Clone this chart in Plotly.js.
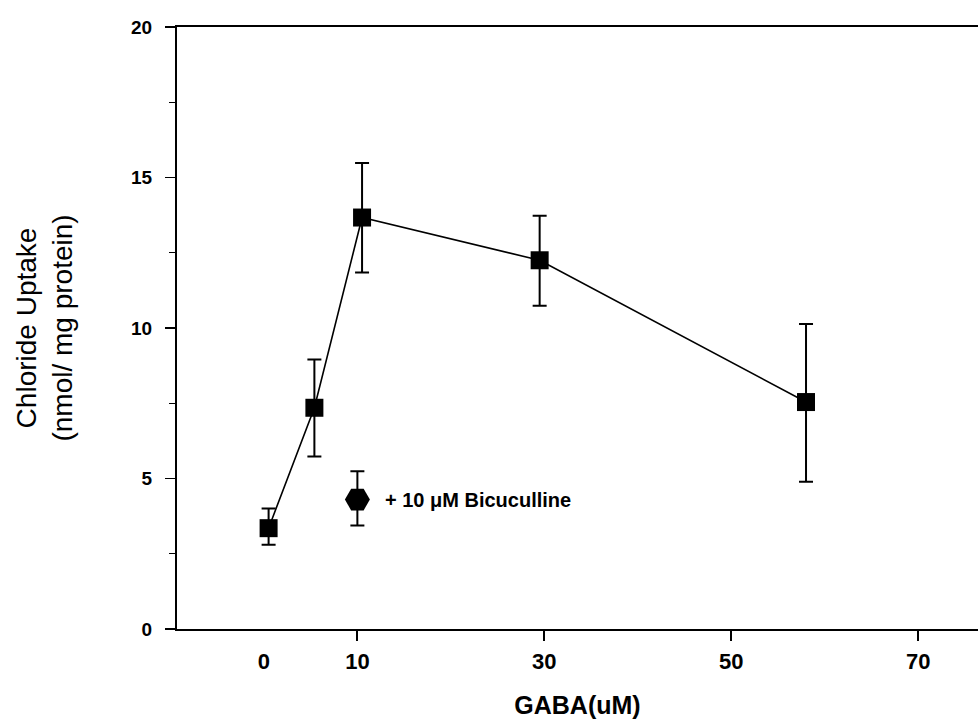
<!DOCTYPE html>
<html>
<head>
<meta charset="utf-8">
<script src="https://cdn.plot.ly/plotly-3.0.1.min.js"></script>
<style>html,body{margin:0;padding:0;background:#fff;}#chart{width:978px;height:719px;}</style>
</head>
<body>
<div id="chart"></div>
<script>
// GABA concentration (uM) and chloride uptake (nmol/mg protein)
var gabaX = [0.5, 5.4, 10.5, 29.5, 58];
var uptakeY = [3.35, 7.35, 13.67, 12.25, 7.54];
var errPlus = [0.65, 1.6, 1.81, 1.48, 2.59];
var errMinus = [0.55, 1.62, 1.83, 1.51, 2.65];

// + 10 uM Bicuculline point
var bicX = [10];
var bicY = [4.3];
var bicErrPlus = [0.94];
var bicErrMinus = [0.86];
var bicLabel = '+ 10 \u03bcM Bicuculline';

var xTickVals = [0, 10, 30, 50, 70];
var xTickText = ['0', '10', '30', '50', '70'];
var xTickMarks = [10, 30, 50, 70];
var yTickVals = [0, 5, 10, 15, 20];

var traces = [
  {
    x: gabaX, y: uptakeY, type: 'scatter', mode: 'lines+markers',
    line: {color: '#000', width: 1.6},
    marker: {symbol: 'square', size: 18, color: '#000'},
    error_y: {type: 'data', symmetric: false, array: errPlus, arrayminus: errMinus,
              color: '#000', thickness: 2, width: 7},
    showlegend: false, hoverinfo: 'none'
  },
  {
    x: bicX, y: bicY, type: 'scatter', mode: 'markers',
    marker: {symbol: 'hexagon2', size: 25, color: '#000'},
    error_y: {type: 'data', symmetric: false, array: bicErrPlus, arrayminus: bicErrMinus,
              color: '#000', thickness: 2, width: 7},
    showlegend: false, hoverinfo: 'none'
  },
  {
    x: xTickMarks, y: xTickMarks.map(function(){return null;}), xaxis: 'x2', type: 'scatter',
    mode: 'markers', showlegend: false, hoverinfo: 'none'
  }
];

var layout = {
  width: 978, height: 719,
  margin: {l: 177, r: 0, t: 27, b: 90},
  paper_bgcolor: '#fff', plot_bgcolor: '#fff',
  showlegend: false,
  xaxis: {
    range: [-9.3, 76.4],
    tickmode: 'array', tickvals: xTickVals, ticktext: xTickText,
    ticks: '', ticklabelstandoff: 12,
    tickfont: {family: '"Liberation Sans", Arial, sans-serif', size: 22, weight: 'bold', color: '#000'},
    showline: true, linecolor: '#000', linewidth: 2, mirror: true,
    showgrid: false, zeroline: false,
    title: {text: 'GABA(uM)', standoff: 32,
            font: {family: '"Liberation Sans", Arial, sans-serif', size: 25, weight: 'bold', color: '#000'}}
  },
  xaxis2: {
    overlaying: 'x', matches: 'x', side: 'bottom',
    tickmode: 'array', tickvals: xTickMarks, showticklabels: false,
    ticks: 'outside', ticklen: 11, tickwidth: 2, tickcolor: '#000',
    showline: false, showgrid: false, zeroline: false
  },
  yaxis: {
    range: [0, 20],
    tickmode: 'array', tickvals: yTickVals,
    ticks: 'outside', ticklen: 10, tickwidth: 1.5, tickcolor: '#000',
    minor: {dtick: 2.5, ticks: 'outside', ticklen: 6, tickwidth: 1.2, tickcolor: '#000'},
    ticklabelstandoff: 9,
    tickfont: {family: '"Liberation Sans", Arial, sans-serif', size: 19, weight: 'bold', color: '#000'},
    showline: true, linecolor: '#000', linewidth: 2,
    showgrid: false, zeroline: false,
    title: {text: 'Chloride Uptake<br>(nmol/ mg protein)', standoff: 50,
            font: {family: '"Liberation Sans", Arial, sans-serif', size: 28, color: '#000'}}
  },
  annotations: [
    {x: bicX[0], y: bicY[0], xref: 'x', yref: 'y', text: bicLabel, showarrow: false,
     xanchor: 'left', yanchor: 'middle', xshift: 26,
     font: {family: '"Liberation Sans", Arial, sans-serif', size: 20, weight: 'bold', color: '#000'}}
  ]
};

Plotly.newPlot('chart', traces, layout, {staticPlot: true, displayModeBar: false});
</script>
</body>
</html>
